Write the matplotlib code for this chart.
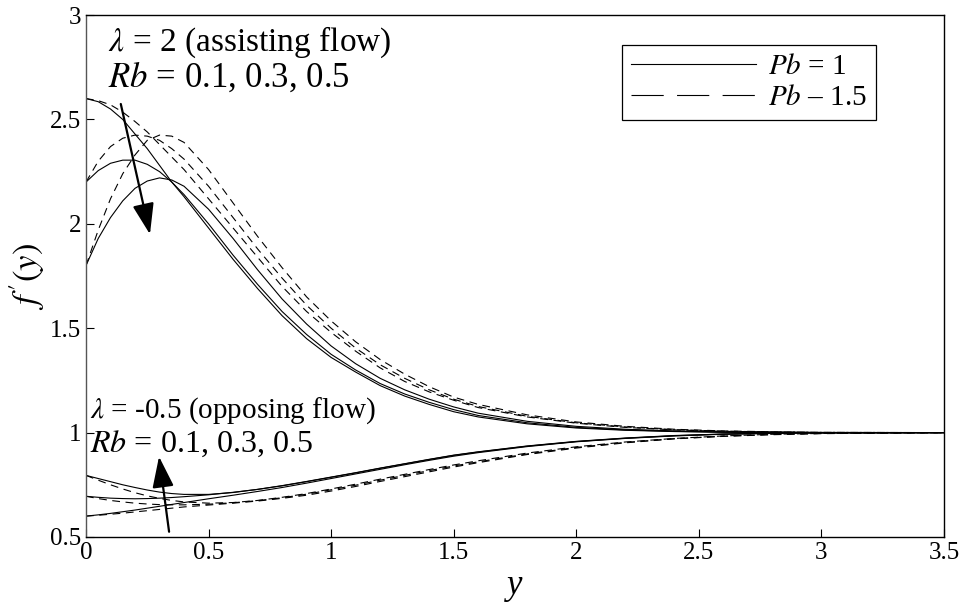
"""
f'(y) profiles for assisting / opposing flow, Pb = 1 (solid) vs Pb = 1.5 (dashed).
"""
import matplotlib; matplotlib.use("Agg")
import matplotlib.pyplot as plt
from matplotlib.lines import Line2D

plt.rcParams["font.family"] = ["Liberation Serif", "DejaVu Serif"]
plt.rcParams["mathtext.fontset"] = "stix"

# ---- data ------------------------------------------------------------------
ys = [0, 0.05, 0.1, 0.15, 0.2, 0.25, 0.3, 0.35, 0.4, 0.5, 0.6, 0.7, 0.8, 0.9,
      1.0, 1.1, 1.2, 1.3, 1.4, 1.5, 1.6, 1.8, 2.0, 2.2, 2.4, 2.6, 2.8, 3.0, 3.5]

# lambda = 2 (assisting flow), Pb = 1
asst_pb1_rb01 = [2.60, 2.585, 2.55, 2.50, 2.43, 2.36, 2.28, 2.20, 2.13, 1.98, 1.83, 1.69, 1.56, 1.45,
                 1.36, 1.29, 1.225, 1.175, 1.135, 1.10, 1.075, 1.042, 1.022, 1.011, 1.005, 1.002, 1.001, 1.0, 1.0]
asst_pb1_rb03 = [2.20, 2.255, 2.29, 2.305, 2.305, 2.285, 2.25, 2.20, 2.14, 2.00, 1.85, 1.71, 1.58, 1.47,
                 1.375, 1.30, 1.235, 1.185, 1.145, 1.11, 1.082, 1.047, 1.025, 1.013, 1.006, 1.002, 1.001, 1.0, 1.0]
asst_pb1_rb05 = [1.80, 1.93, 2.03, 2.11, 2.17, 2.205, 2.22, 2.21, 2.18, 2.07, 1.93, 1.78, 1.64, 1.52,
                 1.415, 1.33, 1.26, 1.205, 1.16, 1.123, 1.093, 1.054, 1.03, 1.016, 1.008, 1.003, 1.001, 1.0, 1.0]
# lambda = 2 (assisting flow), Pb = 1.5
asst_pb15_rb01 = [2.60, 2.59, 2.57, 2.535, 2.49, 2.44, 2.38, 2.32, 2.26, 2.12, 1.98, 1.84, 1.70, 1.58,
                  1.48, 1.39, 1.31, 1.245, 1.195, 1.155, 1.12, 1.075, 1.045, 1.025, 1.013, 1.006, 1.003, 1.001, 1.0]
asst_pb15_rb03 = [2.20, 2.30, 2.37, 2.41, 2.425, 2.42, 2.40, 2.36, 2.31, 2.18, 2.03, 1.88, 1.74, 1.61,
                  1.50, 1.405, 1.325, 1.26, 1.205, 1.16, 1.125, 1.078, 1.047, 1.027, 1.014, 1.007, 1.003, 1.001, 1.0]
asst_pb15_rb05 = [1.80, 1.97, 2.12, 2.24, 2.33, 2.40, 2.425, 2.42, 2.39, 2.26, 2.10, 1.94, 1.79, 1.65,
                  1.535, 1.435, 1.35, 1.28, 1.22, 1.17, 1.135, 1.085, 1.051, 1.03, 1.016, 1.008, 1.004, 1.001, 1.0]

# lambda = -0.5 (opposing flow), Pb = 1
opp_pb1_rb05 = [0.795, 0.78, 0.765, 0.75, 0.737, 0.725, 0.715, 0.708, 0.704, 0.704, 0.713, 0.728, 0.746, 0.766,
                0.787, 0.808, 0.83, 0.851, 0.872, 0.892, 0.908, 0.936, 0.958, 0.974, 0.986, 0.993, 0.997, 0.999, 1.0]
opp_pb1_rb03 = [0.695, 0.69, 0.686, 0.684, 0.683, 0.684, 0.686, 0.689, 0.693, 0.702, 0.714, 0.728, 0.745, 0.765,
                0.786, 0.807, 0.829, 0.85, 0.871, 0.891, 0.907, 0.935, 0.957, 0.973, 0.985, 0.993, 0.997, 0.999, 1.0]
opp_pb1_rb01 = [0.60, 0.606, 0.613, 0.621, 0.629, 0.638, 0.647, 0.656, 0.665, 0.683, 0.70, 0.718, 0.737, 0.758,
                0.78, 0.802, 0.824, 0.846, 0.867, 0.887, 0.904, 0.933, 0.956, 0.972, 0.984, 0.992, 0.996, 0.999, 1.0]
# lambda = -0.5 (opposing flow), Pb = 1.5
opp_pb15_rb05 = [0.795, 0.772, 0.75, 0.73, 0.712, 0.697, 0.685, 0.675, 0.668, 0.662, 0.665, 0.675, 0.69, 0.708,
                 0.73, 0.753, 0.777, 0.80, 0.823, 0.845, 0.865, 0.902, 0.932, 0.955, 0.972, 0.984, 0.992, 0.996, 1.0]
opp_pb15_rb03 = [0.695, 0.684, 0.675, 0.668, 0.662, 0.658, 0.655, 0.654, 0.654, 0.657, 0.664, 0.674, 0.688, 0.705,
                 0.726, 0.748, 0.772, 0.795, 0.818, 0.84, 0.86, 0.898, 0.929, 0.953, 0.971, 0.983, 0.991, 0.996, 1.0]
opp_pb15_rb01 = [0.60, 0.604, 0.609, 0.614, 0.62, 0.626, 0.632, 0.638, 0.644, 0.653, 0.662, 0.672, 0.685, 0.70,
                 0.72, 0.742, 0.766, 0.789, 0.812, 0.835, 0.856, 0.895, 0.926, 0.951, 0.97, 0.982, 0.99, 0.995, 1.0]

x_ticks = [0, 0.5, 1, 1.5, 2, 2.5, 3, 3.5]
y_ticks = [0.5, 1, 1.5, 2, 2.5, 3]
legend_labels = ["$Pb$ = 1", "$Pb$ \u2013 1.5"]

solid_curves  = [asst_pb1_rb01, asst_pb1_rb03, asst_pb1_rb05, opp_pb1_rb01, opp_pb1_rb03, opp_pb1_rb05]
dashed_curves = [asst_pb15_rb01, asst_pb15_rb03, asst_pb15_rb05, opp_pb15_rb01, opp_pb15_rb03, opp_pb15_rb05]

# ---- figure -----------------------------------------------------------------
fig = plt.figure(figsize=(9.65, 6.02), dpi=100)
ax = fig.add_axes([0.0891, 0.108, 0.8891, 0.867])

for c in solid_curves:
    ax.plot(ys, c, color="k", lw=0.8)
for c in dashed_curves:
    ax.plot(ys, c, color="k", lw=0.8, dashes=(7, 5))

ax.set_xlim(0, 3.5); ax.set_ylim(0.5, 3)
ax.set_xticks(x_ticks); ax.set_yticks(y_ticks)
ax.set_xticklabels([f"{v:g}" for v in x_ticks])
ax.set_yticklabels([f"{v:g}" for v in y_ticks])
ax.tick_params(direction="in", length=6, width=0.8, labelsize=18, top=False, right=False)
for s in ax.spines.values():
    s.set_linewidth(1.0)
ax.spines["left"].set_color("#555555")

ax.set_xlabel("y", fontsize=25, fontstyle="italic", labelpad=4)
ax.set_ylabel("$f\\,'(y)$", fontsize=25, labelpad=2)

# annotations
ax.text(0.09, 2.83, "$\\lambda$ = 2 (assisting flow)", fontsize=24, va="baseline")
ax.text(0.09, 2.655, "$Rb$ = 0.1, 0.3, 0.5", fontsize=25, va="baseline")
ax.text(0.016, 1.07, "$\\lambda$ = -0.5 (opposing flow)", fontsize=21, va="baseline")
ax.text(0.016, 0.907, "$Rb$ = 0.1, 0.3, 0.5", fontsize=23, va="baseline")

arrow = dict(arrowstyle="-|>,head_length=0.95,head_width=0.33", color="k", lw=1.6,
             mutation_scale=20, shrinkA=0, shrinkB=0)
ax.annotate("", xy=(0.261, 1.95), xytext=(0.142, 2.574), arrowprops=arrow)
ax.annotate("", xy=(0.298, 0.885), xytext=(0.339, 0.525), arrowprops=arrow)

handles = [Line2D([], [], color="k", lw=0.8),
           Line2D([], [], color="k", lw=0.8, dashes=(29, 12))]
leg = ax.legend(handles, legend_labels, loc="upper left", bbox_to_anchor=(0.625, 0.943),
                borderaxespad=0, fontsize=21, handlelength=4.3, handletextpad=0.4,
                labelspacing=0.15, borderpad=0.3, fancybox=False, framealpha=1)
leg.get_frame().set_edgecolor("k"); leg.get_frame().set_linewidth(0.9)

fig.savefig("out.png", dpi=100)
plt.close(fig)
